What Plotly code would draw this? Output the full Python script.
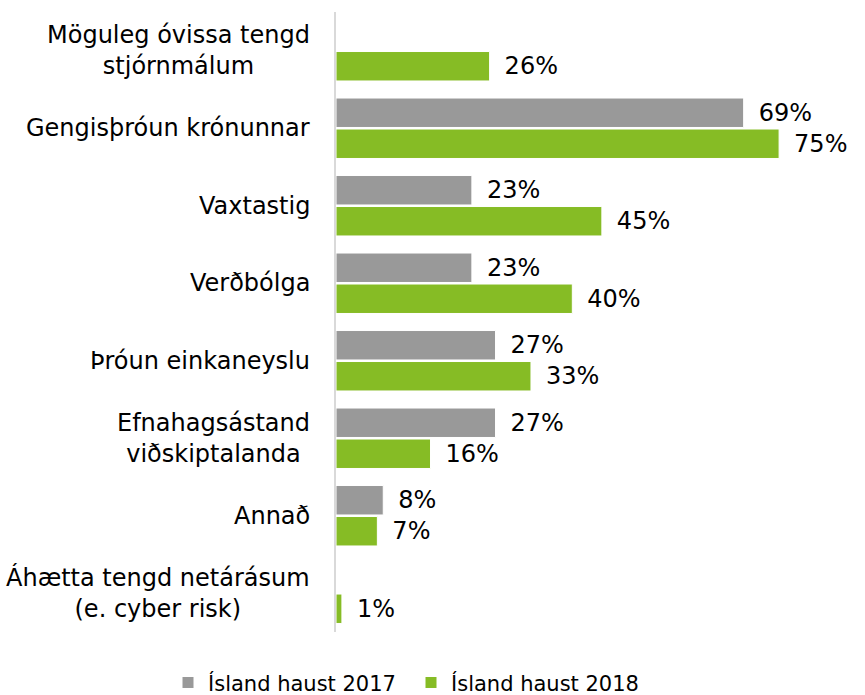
import plotly.graph_objects as go

categories = [
    "Möguleg óvissa tengd<br>stjórnmálum",
    "Gengisþróun krónunnar",
    "Vaxtastig",
    "Verðbólga",
    "Þróun einkaneyslu",
    "Efnahagsástand<br>viðskiptalanda",
    "Annað",
    "Áhætta tengd netárásum<br>(e. cyber risk)",
]
vals_2017 = [None, 69, 23, 23, 27, 27, 8, None]
vals_2018 = [26, 75, 45, 40, 33, 16, 7, 1]
series_names = ["Ísland haust 2017", "Ísland haust 2018"]
colors = ["#999999", "#86bc25"]

FONT = "DejaVu Sans"
PAD = "\u2002"

def labels(vals):
    return ["" if v is None else f"{PAD}{v}%" for v in vals]

fig = go.Figure()
for name, vals, col in zip(series_names, [vals_2017, vals_2018], colors):
    fig.add_trace(go.Bar(
        y=categories, x=vals, name=name, orientation="h",
        marker=dict(color=col, line=dict(color="white", width=1)),
        text=labels(vals), textposition="outside", cliponaxis=False,
        textfont=dict(family=FONT, size=24, color="#000000"),
    ))

for c in categories:
    fig.add_annotation(
        x=0, xref="paper", y=c, yref="y", text=c, showarrow=False,
        xanchor="right", align="center", xshift=-24,
        font=dict(family=FONT, size=24, color="#000000"),
    )

fig.update_layout(
    width=865, height=695,
    margin=dict(l=336, r=15, t=12, b=63, autoexpand=False),
    paper_bgcolor="white", plot_bgcolor="white",
    barmode="group", bargap=0.2, bargroupgap=0.05,
    font=dict(family=FONT, size=21, color="#000000"),
    showlegend=True,
    legend=dict(orientation="h", xref="container", x=168 / 865, xanchor="left",
                y=-0.082, yanchor="middle", entrywidth=198,
                font=dict(family=FONT, size=21, color="#000000")),
)
fig.update_xaxes(range=[0, 87], showticklabels=False, showgrid=False,
                 zeroline=False, showline=False, ticks="")
fig.update_yaxes(autorange="reversed", showticklabels=False, showgrid=False,
                 zeroline=False, showline=True, linecolor="#d9d9d9", linewidth=2,
                 ticks="", type="category")

fig.write_html(
    "out.html",
    config={"displayModeBar": False},
    post_script="document.body.style.margin='0';document.body.style.overflow='hidden';",
)
